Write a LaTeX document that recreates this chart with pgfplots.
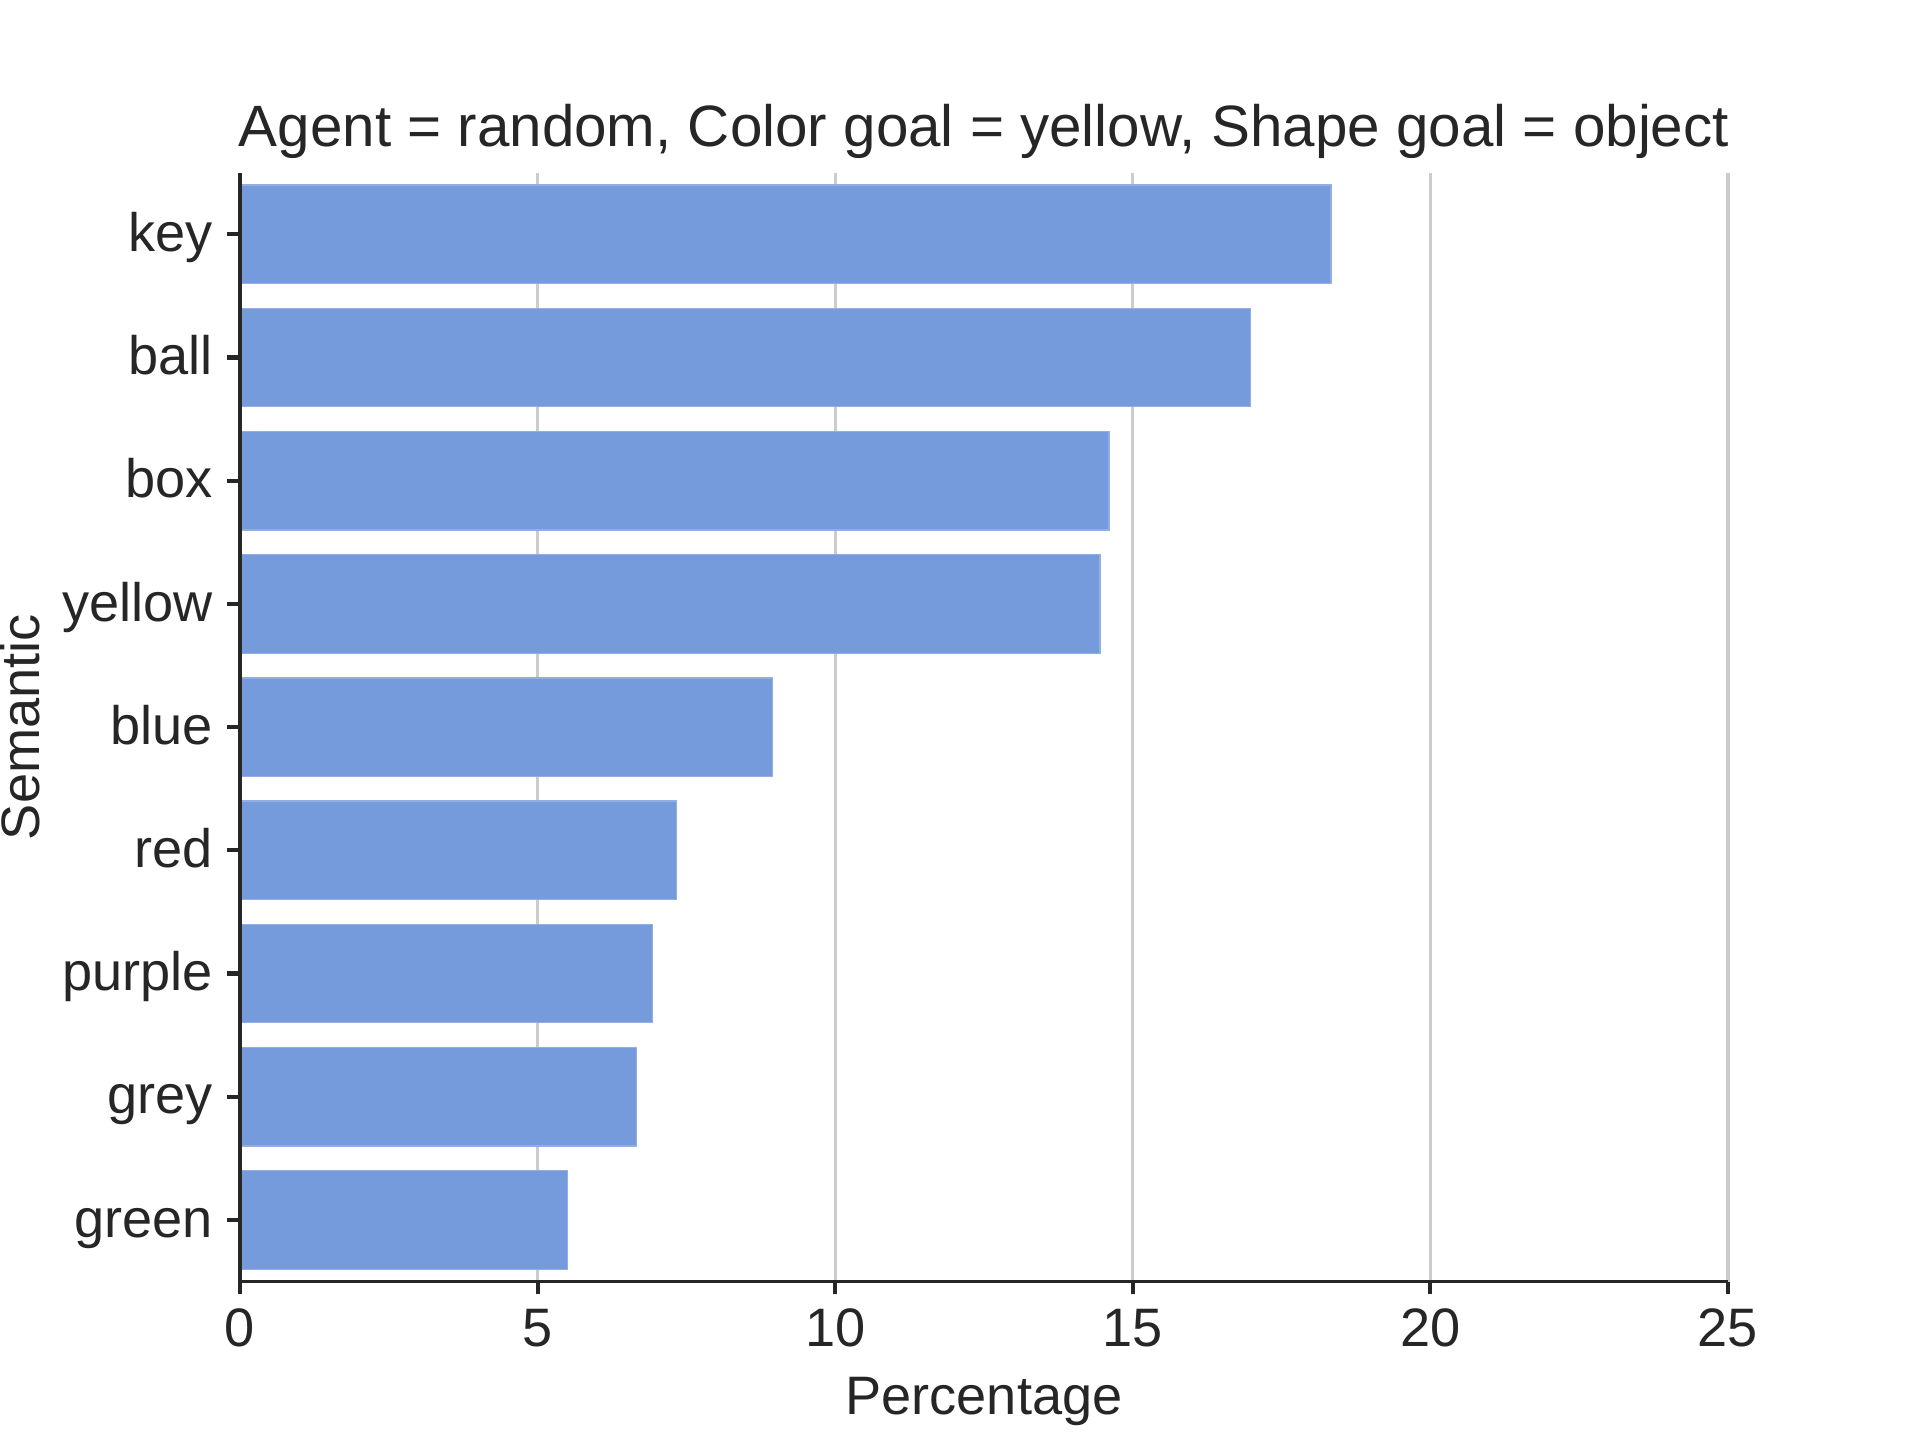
\documentclass[border=0pt]{standalone}
\usepackage{fontspec}
\setmainfont{Liberation Sans}
\usepackage{pgfplots}
\pgfplotsset{compat=1.18}
\pgfplotsset{
  layers/mylayers/.define layer set={
    axis background,axis grid,main,axis ticks,axis lines,axis tick labels,axis descriptions,axis foreground
  }{/pgfplots/layers/standard},
}
\definecolor{barblue}{RGB}{117,155,220}
\definecolor{txt}{RGB}{38,38,38}
\definecolor{gridc}{RGB}{204,204,204}
\begin{document}
\begin{tikzpicture}
\begin{axis}[
  set layers=mylayers,
  scale only axis, width=357.12pt, height=266.11pt,
  at={(0,0)}, anchor=south west,
  xbar, bar width=0.8,
  xmin=0, xmax=25, ymin=-0.5, ymax=8.5,
  ytick={0,...,8},
  yticklabels={green,grey,purple,red,blue,yellow,box,ball,key},
  xtick={0,5,10,15,20,25},
  axis x line*=bottom, axis y line*=left,
  axis line style={-, line width=0.9pt, color=txt},
  tick align=outside, major tick length=3pt,
  every tick/.style={line width=1pt, color=txt},
  major tick style={line width=1pt, color=txt},
  xmajorgrids, major grid style={line width=0.8pt, color=gridc},
  /pgf/number format/assume math mode=true,
  tick label style={font=\fontsize{13}{15}\selectfont, text=txt},
  yticklabel style={anchor=base east, yshift=-4.1pt},
  label style={font=\fontsize{13}{15}\selectfont, text=txt},
  xlabel={Percentage}, ylabel={Semantic},
  xlabel style={at={(axis description cs:0.5,-0.1199)}, anchor=base},
  ylabel style={at={(axis description cs:-0.135,0.5)}, anchor=base, rotate=0},
  title={Agent = random, Color goal = yellow, Shape goal = object},
  title style={at={(axis description cs:0.5,1.0015)}, anchor=base, font=\fontsize{14}{16}\selectfont, text=txt},
]
\addplot[fill=barblue, draw=barblue!80!white, line width=0.3pt] coordinates {
  (5.50,0) (6.66,1) (6.93,2) (7.33,3) (8.95,4) (14.45,5) (14.60,6) (16.98,7) (18.33,8)
};
\end{axis}
\pgfresetboundingbox
\path[use as bounding box] (-57.6pt,-38.016pt) rectangle (403.2pt,307.58pt);
\end{tikzpicture}
\end{document}
